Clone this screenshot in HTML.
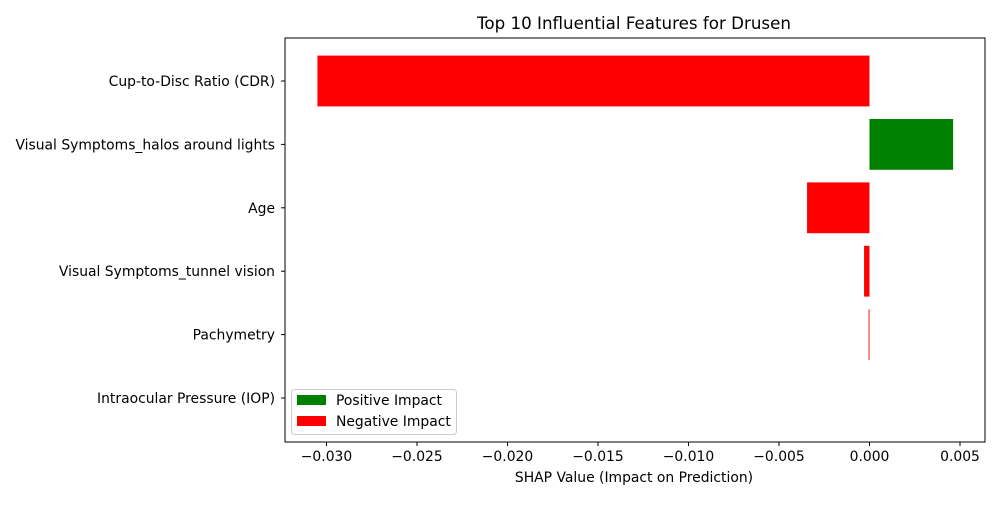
<!DOCTYPE html>
<html><head><meta charset="utf-8"><style>
body{margin:0;background:#fff;}
svg text{font-family:"DejaVu Sans","Liberation Sans",sans-serif;fill:#000;}
</style></head><body>
<svg id="chart" width="1000" height="500">
<rect x="0" y="0" width="1000" height="500" fill="#fff"/>
<text x="634" y="29" font-size="16.7" text-anchor="middle">Top 10 Influential Features for Drusen</text>
<g id="bars"></g>
<g id="axes"></g>
</svg>
<script>
const categories = ["Cup-to-Disc Ratio (CDR)","Visual Symptoms_halos around lights","Age","Visual Symptoms_tunnel vision","Pachymetry","Intraocular Pressure (IOP)"];
const shapValues = [-0.0305, 0.00462, -0.00345, -0.0003, -0.00005, 0];
const xTicks = [-0.030,-0.025,-0.020,-0.015,-0.010,-0.005,0.000,0.005];
const xTickLabels = ["\u22120.030","\u22120.025","\u22120.020","\u22120.015","\u22120.010","\u22120.005","0.000","0.005"];

const L=285,R=985,T=38,B=442;
const x = v => 869.5 + v/0.005*90.5;
const y = i => 81 + i*63.4;
const NS="http://www.w3.org/2000/svg";
const bars=document.getElementById('bars'), axes=document.getElementById('axes');
function mk(tag,attrs,parent){const e=document.createElementNS(NS,tag);for(const k in attrs)e.setAttribute(k,attrs[k]);parent.appendChild(e);return e;}

categories.forEach((c,i)=>{
  const v=shapValues[i];
  const x0=Math.min(x(0),x(v)), w=Math.abs(x(v)-x(0));
  const r=mk('rect',{x:x0,y:y(i)-25.4,width:Math.max(w,0),height:50.8,fill:v>=0?'#008000':'#ff0000'},bars);
  
  
  mk('line',{x1:L,x2:L-4,y1:y(i),y2:y(i),stroke:'#000','stroke-width':1},axes);
  const t=mk('text',{x:L-10,y:y(i)+5,'font-size':13.9,'text-anchor':'end'},axes);
  t.textContent=c;
  
  
});
const frame=mk('rect',{x:L,y:T,width:R-L,height:B-T,fill:'none',stroke:'#000','stroke-width':1},axes);


xTicks.forEach((v,i)=>{
  mk('line',{x1:x(v),x2:x(v),y1:B,y2:B+4,stroke:'#000','stroke-width':1},axes);
  const t=mk('text',{x:x(v),y:B+19,'font-size':13.9,'text-anchor':'middle'},axes);
  t.textContent=xTickLabels[i];
  
  
});
const xt=mk('text',{x:634,y:482,'font-size':13.9,'text-anchor':'middle'},axes);
xt.textContent="SHAP Value (Impact on Prediction)";



const lg=mk('g',{},axes);


mk('rect',{x:291.5,y:389.5,width:165,height:45,rx:3,fill:'#fff','fill-opacity':0.8,stroke:'#ccc'},lg);
mk('rect',{x:297,y:395,width:29,height:10,fill:'#008000'},lg);
mk('rect',{x:297,y:416,width:29,height:10,fill:'#ff0000'},lg);
const l1=mk('text',{x:336,y:405,'font-size':13.9},lg);l1.textContent="Positive Impact";


const l2=mk('text',{x:336,y:426,'font-size':13.9},lg);l2.textContent="Negative Impact";


</script>
</body></html>
